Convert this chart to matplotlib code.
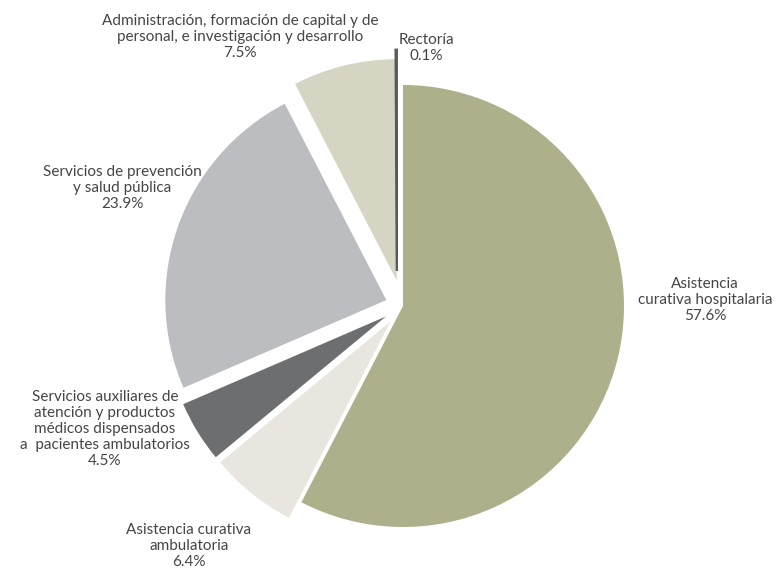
import matplotlib.pyplot as plt

plt.rcParams["font.family"] = ["Lato", "DejaVu Sans"]

# Spending shares by function (%)
labels = [
    "Asistencia\ncurativa hospitalaria",
    "Asistencia curativa\nambulatoria",
    "Servicios auxiliares de\natención y productos\nmédicos dispensados\na  pacientes ambulatorios",
    "Servicios de prevención\ny salud pública",
    "Administración, formación de capital y de\npersonal, e investigación y desarrollo",
    "Rectoría",
]
shares = [57.6, 6.4, 4.5, 23.9, 7.5, 0.1]
colors = ["#aeaf8b", "#e8e6de", "#6d6e70", "#bcbdc1", "#d6d4c2", "#58595b"]
explode = [0.0, 0.09, 0.09, 0.08, 0.12, 0.16]

# label anchor points in pixel space (x, y from top)
label_pos = [(705, 300), (189, 546), (105, 429), (122, 188), (240, 37), (426, 48)]

W, H = 776, 574
fig = plt.figure(figsize=(W / 100, H / 100), dpi=100)
ax = fig.add_axes([0, 0, 1, 1])

R = 221
cx, cy = 403, H - 306
# pie() offsets exploded wedges in data units, so scale by the radius
wedges, _ = ax.pie(
    shares,
    colors=colors,
    explode=[e * R for e in explode],
    startangle=90,
    counterclock=False,
    radius=R,
    center=(cx, cy),
    wedgeprops=dict(linewidth=0),
    frame=True,
)
# the tiny wedge is drawn as a hairline, nudged off the big slice edge
rect = wedges[-1]
rect.set_edgecolor(colors[-1])
rect.set_linewidth(1.5)
rect.set_center((rect.center[0] - 6, rect.center[1]))

ax.set_xlim(0, W)
ax.set_ylim(0, H)
ax.axis("off")

for lab, val, (x, y) in zip(labels, shares, label_pos):
    ax.text(x, H - y, f"{lab}\n{val}%", ha="center", va="center",
            fontsize=11, color="#454545", linespacing=1.2)

fig.savefig("out.png", dpi=100)
